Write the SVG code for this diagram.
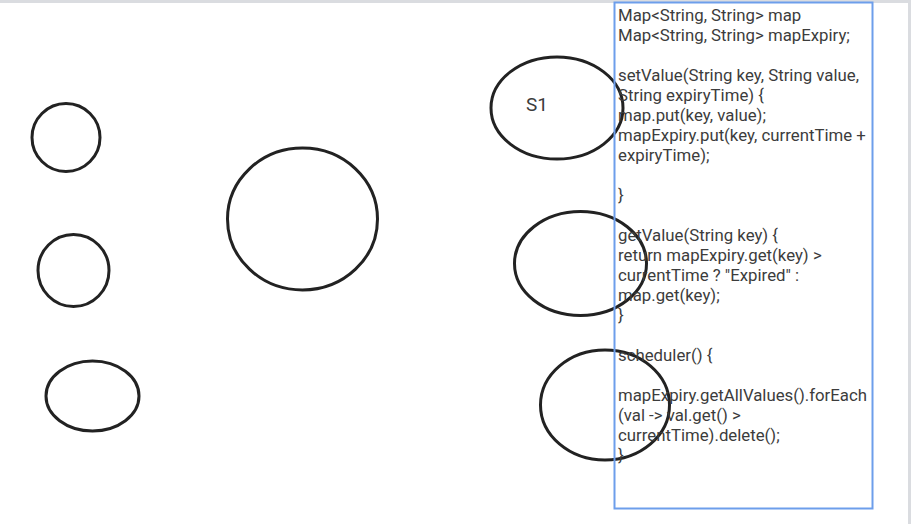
<svg xmlns="http://www.w3.org/2000/svg" width="911" height="524" viewBox="0 0 911 524">
<style>
.node{fill:none;stroke:#222;stroke-width:3}
.code{font-family:Roboto,"Liberation Sans",sans-serif;font-size:16.8px;fill:#3c3c3c}
.lbl{font-family:Roboto,"Liberation Sans",sans-serif;font-size:19px;fill:#3c3c3c}
</style>
<rect x="0" y="0" width="911" height="524" fill="#fff"/>
<line x1="0" y1="1.5" x2="911" y2="1.5" stroke="#dadce0" stroke-width="3"/>
<line x1="909.5" y1="0" x2="909.5" y2="524" stroke="#dadce0" stroke-width="3"/>
<g id="n1"><ellipse class="node" cx="66" cy="137.5" rx="34" ry="34"/></g>
<g id="n2"><ellipse class="node" cx="73.5" cy="270.5" rx="35.5" ry="36"/></g>
<g id="n3"><ellipse class="node" cx="92.5" cy="396" rx="46.5" ry="35"/></g>
<g id="n4"><ellipse class="node" cx="302.5" cy="219" rx="75" ry="71"/></g>
<g id="s1"><ellipse class="node" cx="557" cy="108" rx="66" ry="51"/><text class="lbl" x="537" y="111" text-anchor="middle">S1</text></g>
<g id="n6"><ellipse class="node" cx="580.5" cy="263.5" rx="66" ry="52"/></g>
<g id="n7"><ellipse class="node" cx="605" cy="405" rx="64.5" ry="55"/></g>
<g id="code">
<rect x="614.5" y="2.5" width="258" height="506" fill="none" stroke="#6d9eeb" stroke-width="2"/>
<text class="code">
<tspan x="618" y="21">Map&lt;String, String&gt; map</tspan>
<tspan x="618" y="41">Map&lt;String, String&gt; mapExpiry;</tspan>
<tspan x="618" y="81">setValue(String key, String value,</tspan>
<tspan x="618" y="101">String expiryTime) {</tspan>
<tspan x="618" y="121">map.put(key, value);</tspan>
<tspan x="618" y="141">mapExpiry.put(key, currentTime +</tspan>
<tspan x="618" y="161">expiryTime);</tspan>
<tspan x="618" y="201">}</tspan>
<tspan x="618" y="241">getValue(String key) {</tspan>
<tspan x="618" y="261">return mapExpiry.get(key) &gt;</tspan>
<tspan x="618" y="281">currentTime ? "Expired" :</tspan>
<tspan x="618" y="301">map.get(key);</tspan>
<tspan x="618" y="321">}</tspan>
<tspan x="618" y="361">scheduler() {</tspan>
<tspan x="618" y="401">mapExpiry.getAllValues().forEach</tspan>
<tspan x="618" y="421">(val -&gt; val.get() &gt;</tspan>
<tspan x="618" y="441">currentTime).delete();</tspan>
<tspan x="618" y="461">}</tspan>
</text>
</g>
<g id="connectors"></g>
</svg>
